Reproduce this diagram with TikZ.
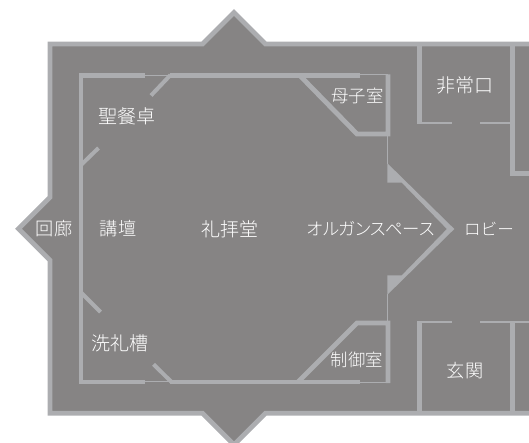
\documentclass[tikz,border=0pt]{standalone}
\usepackage{fontspec}
\setmainfont{Noto Sans CJK JP Light}
\definecolor{floorgray}{HTML}{868484}
\definecolor{wallgray}{HTML}{ACADB0}
\tikzset{
  outerwall/.style={draw=wallgray,fill=floorgray,line width=4.8pt,line join=miter},
  wallthick/.style={draw=wallgray,line width=4.8pt,line join=miter},
  doorstub/.style={draw=wallgray,line width=4pt},
  wallthin/.style={draw=wallgray,line width=1.8pt},
  wallhair/.style={draw=wallgray,line width=0.9pt},
  label/.style={text=white,inner sep=0pt,font=\fontsize{19}{19}\selectfont},
  twolabel/.style={text=white,inner sep=0pt,font=\fontsize{18.2}{19}\selectfont},
  smalllabel/.style={text=white,inner sep=0pt,font=\fontsize{17.4}{18}\selectfont},
  lobbylabel/.style={text=white,inner sep=0pt,font=\fontsize{16.6}{17}\selectfont},
}
\begin{document}
\begin{tikzpicture}[x=1pt,y=-1pt]
\useasboundingbox (0,0) rectangle (529,443);
\clip (0,0) rectangle (529,443);
% outer wall
\draw[outerwall] (540,44) -- (265.5,44) -- (234,12.5) -- (202.5,44) -- (50,44) -- (50,197.2)
  -- (18.5,228.7) -- (50,260.2) -- (50,413.3) -- (202.5,413.3) -- (234,444.8) -- (265.5,413.3) -- (540,413.3);
% sanctuary walls
\draw[wallthick] (145,75.2) -- (81,75.2) -- (81,382) -- (145,382);
\draw[wallhair] (145,75) -- (170,75);
\draw[wallhair] (145,381.4) -- (170,381.4);
\draw[wallthick] (170,75.2) -- (360,75.2);
\draw[wallthick] (170,382) -- (360,382);
% door stubs
\draw[doorstub] (170.5,75) -- (151,95.5);
\draw[doorstub] (81,165) -- (98.5,148);
\draw[doorstub] (81,292.5) -- (100.5,312);
\draw[doorstub] (171.5,382) -- (153.5,364.3);
% mother-child room
\draw[wallhair] (360,74.8) -- (388,74.8);
\draw[wallthick] (299.5,75.2) -- (357,134) -- (388,134) -- (388,74.4);
\draw[wallhair] (387.8,136) -- (387.8,164);
% control room
\draw[wallhair] (360,382.4) -- (388,382.4);
\draw[wallthick] (298,382) -- (357,323) -- (388,323) -- (388,383);
\draw[wallhair] (387.8,294) -- (387.8,322);
% organ space point
\fill[wallgray] (387.4,163.3) -- (454.3,229) -- (387.4,294.7) -- (387.4,275.4) -- (401.7,275.4)
  -- (446.9,229) -- (401.7,182.6) -- (387.4,182.6) -- cycle;
% right rooms
\draw[wallthick] (419.5,44) -- (419.5,122);
\draw[wallthin] (417.2,122.7) -- (451.7,122.7);
\draw[wallthin] (480,122.7) -- (511,122.7);
\draw[wallthick] (512.7,44) -- (512.7,173.4) -- (535,173.4);
\draw[wallthick] (419.5,413) -- (419.5,323);
\draw[wallthin] (417.2,322) -- (451.7,322);
\draw[wallthin] (480,322) -- (535,322);
\draw[wallthick] (512.7,413) -- (512.7,322);
% labels
\node[label] (seisan) at (126.7,116) {聖餐卓};
\node[smalllabel] (boshi) at (357.5,96) {母子室};
\node[label] (hijo) at (465,85.7) {非常口};
\node[twolabel] (kairo) at (54,229) {回廊};
\node[twolabel] (kodan) at (118,229) {講壇};
\node[label] (reihai) at (230,229) {礼拝堂};
\node[smalllabel] (organ) at (371,229) {\addfontfeatures{RawFeature=+palt}オルガンスペース};
\node[lobbylabel] (lobby) at (489,229) {ロビー};
\node[label] (senrei) at (119.7,343.7) {洗礼槽};
\node[smalllabel] (seigyo) at (356.7,360.3) {制御室};
\node[twolabel] (genkan) at (465,370.3) {玄関};
\end{tikzpicture}
\end{document}
